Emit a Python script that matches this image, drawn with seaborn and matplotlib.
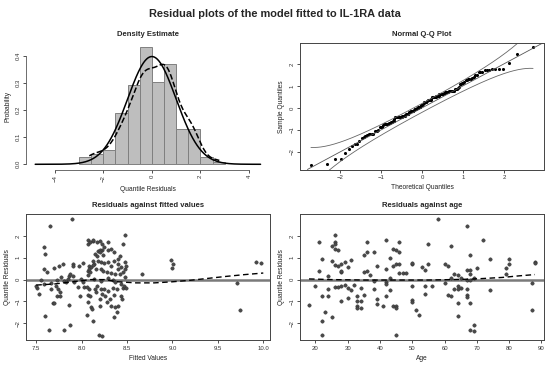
import numpy as np
import seaborn as sns
import matplotlib.pyplot as plt
from statistics import NormalDist

# histogram of quantile residuals (density per 0.5 bin)
hist_edges = [-3.0, -2.5, -2.0, -1.5, -1.0, -0.5, 0.0, 0.5, 1.0, 1.5, 2.0, 2.5, 3.0]
hist_density = [0.026, 0.037, 0.053, 0.19, 0.293, 0.435, 0.306, 0.37, 0.129, 0.129, 0.026, 0.008]

# residuals vs fitted values
fitted = [7.65, 7.89, 7.58, 7.60, 7.59, 7.62, 7.69, 7.75, 7.79, 7.90, 7.91, 8.02, 7.97, 8.07, 8.08,
          7.55, 7.51, 7.50, 7.53, 7.58, 7.66, 7.72, 7.66, 7.68, 7.70, 7.60, 7.64, 7.81, 7.86, 7.87,
          7.74, 7.76, 7.73, 7.76, 7.73, 7.77, 7.80, 7.85, 7.83, 7.86, 7.87, 7.90, 7.92, 7.96, 7.98,
          8.03, 8.08, 8.07, 8.07, 8.09, 8.13, 8.12, 8.17, 8.20, 8.22, 8.29, 8.25, 8.22, 8.18, 8.20,
          8.20, 8.15, 8.17, 8.23, 8.29, 8.32, 8.36, 8.40, 8.42, 8.45, 8.48, 8.12, 8.14, 8.10, 8.08,
          8.13, 8.18, 8.21, 8.25, 8.29, 8.32, 8.36, 8.40, 8.43, 8.48, 8.48, 8.49, 8.07, 8.09, 8.16,
          8.21, 8.23, 8.28, 8.32, 8.37, 8.40, 8.42, 8.45, 8.48, 8.66, 8.06, 8.07, 8.09, 8.07, 8.10,
          8.11, 8.15, 8.17, 8.16, 8.21, 8.22, 8.20, 8.20, 8.25, 8.26, 8.28, 8.29, 8.31, 8.32, 8.34,
          8.36, 8.39, 8.40, 8.43, 8.45, 8.44, 8.37, 8.47, 8.49, 8.36, 8.39, 8.13, 8.19, 8.22, 8.06,
          8.98, 9.00, 9.01, 9.71, 9.74, 9.92, 9.97, 8.14, 8.21, 8.29, 8.34, 8.37, 8.43, 8.02, 7.99]
resid_fitted = [2.47, 2.78, 1.51, 1.15, 0.49, 0.34, 0.53, 0.64, 0.69, 0.70, 0.63, 0.76, 0.64, 0.41, 0.64,
                0.00, -0.40, -0.27, -0.66, -0.20, -0.15, -0.27, -0.43, -1.07, -1.07, -1.65, -2.31, -2.32, -1.18, -2.06,
                -0.43, -0.58, -0.73, -0.76, -0.03, 0.11, -0.05, 0.03, -0.12, 0.15, 0.26, 0.18, -0.12, -0.34, -0.73,
                -0.35, -0.43, 1.63, 1.79, 1.71, 1.76, 1.79, 1.71, 1.76, 1.63, 1.74, 1.48, 1.33, 1.30, 1.36,
                1.25, 1.18, 1.10, 1.13, 1.33, 1.40, 1.25, 0.95, 1.10, 1.63, 2.02, 0.87, 0.72, 0.56, 0.49,
                0.67, 0.87, 0.79, 0.76, 0.79, 0.64, 0.87, 0.72, 0.56, 0.79, 0.49, 0.64, 0.21, 0.34, 0.49,
                0.49, 0.37, 0.34, 0.31, 0.26, 0.49, 0.26, 0.34, 0.11, 0.26, -0.35, -0.70, -0.73, -1.04, -1.24,
                -1.34, -0.43, -0.27, -0.58, -0.43, -0.66, -0.89, -1.19, -0.43, -0.73, -1.01, -0.50, -0.89, -1.19, -0.37,
                -0.70, -0.43, -1.19, -0.73, -0.37, -0.89, -1.27, -0.27, -0.40, -1.73, -1.50, -1.88, -2.53, -2.58, -1.62,
                0.90, 0.52, 0.72, -0.15, -1.37, 0.79, 0.76, 0.03, -0.05, 0.06, 0.00, -0.09, -0.20, -0.12, 0.03]

# residuals vs age
age = [18, 21, 21, 20, 22, 22, 22, 22, 23, 24, 24, 24, 25, 25, 25, 26, 26, 26, 26, 26, 26, 27, 27, 27,
       28, 28, 28, 28, 28, 29, 29, 30, 30, 30, 31, 31, 32, 33, 33, 33, 33, 34, 34, 34, 35, 35, 35, 36,
       36, 36, 37, 38, 38, 38, 39, 39, 39, 41, 42, 42, 42, 42, 42, 43, 43, 43, 44, 44, 44, 45, 45, 45,
       45, 45, 46, 46, 46, 46, 47, 48, 50, 50, 50, 50, 50, 51, 52, 53, 54, 54, 54, 55, 55, 56, 58, 60,
       60, 61, 61, 62, 62, 62, 63, 63, 64, 64, 64, 64, 64, 65, 65, 67, 67, 67, 67, 67, 67, 68, 68, 68,
       68, 68, 68, 69, 69, 69, 70, 72, 74, 74, 79, 79, 80, 80, 88, 88, 87, 87]
resid_age = [-1.16, 1.74, 0.38, -0.27, 0.96, -0.73, -1.88, -2.52, -1.47, 0.15, -0.43, -0.73, -1.69, 0.85,
             1.53, 2.02, 1.71, 1.62, 1.40, 0.67, -0.35, 1.34, 0.61, -0.32, 0.73, 0.34, 0.41, -0.27, -0.98,
             0.82, -0.23, 0.56, -0.37, -0.84, 0.89, -0.46, -0.26, -0.73, -0.98, -1.19, -1.31, -0.98, -1.30,
             -0.40, 0.34, 1.13, -0.70, 1.71, 1.25, 0.40, 0.21, 1.25, -0.06, -0.43, 0.64, -0.90, -1.10,
             -1.19, 1.79, 0.49, -0.12, -0.21, -0.73, 1.00, 0.09, -0.46, 1.40, 0.61, -1.19, 1.34, 0.70,
             -1.19, -1.28, -2.53, 1.74, 1.25, 0.73, 0.31, 0.31, 0.31, 0.70, 0.74, -0.31, -0.92, -1.04,
             -1.39, -1.62, 0.58, 0.43, -0.31, -0.66, 1.63, 0.70, -0.31, 2.78, 0.69, -0.17, 0.61, -0.70,
             1.53, 0.09, -0.73, -0.43, 0.24, 0.21, -0.27, -1.08, -1.65, -0.43, -0.37, 0.06, 2.44, 0.46,
             0.00, -0.43, -0.70, -0.81, 1.13, 0.46, 0.24, 0.00, -1.08, -2.31, 0.06, -2.08, -2.35, 0.55,
             1.79, 0.92, -0.46, 0.27, 0.53, 0.92, 0.70, 0.82, 0.78, -0.15, -1.37]

# dashed smoothers and Q-Q reference line
smooth_fit_x = [7.5, 7.7, 7.9, 8.1, 8.25, 8.4, 8.6, 8.8, 9.0, 9.2, 9.4, 9.6, 9.8, 10.0]
smooth_fit_y = [-0.25, -0.2, -0.1, 0.0, 0.0, -0.1, -0.15, -0.15, -0.1, -0.03, 0.06, 0.15, 0.23, 0.3]
smooth_age_x = [18, 25, 35, 45, 55, 62, 68, 72, 78, 83, 88]
smooth_age_y = [0.03, 0.0, -0.02, -0.02, -0.02, 0.0, 0.02, 0.05, 0.1, 0.17, 0.23]
qq_intercept, qq_slope = 0.0, 1.0

sns.set_style("ticks")
plt.rcParams["font.family"] = ["Liberation Sans", "DejaVu Sans"]

fig = plt.figure(figsize=(5.5, 3.67), dpi=100)
left_x, right_x, col_w = 26 / 550, 300 / 550, 244 / 550
top_y, bot_y, row_h = 1 - 169.5 / 367, 1 - 340 / 367, 126.5 / 367
ax_hist = fig.add_axes([left_x, top_y, col_w, row_h])
ax_qq = fig.add_axes([right_x, top_y, col_w, row_h])
ax_fit = fig.add_axes([left_x, bot_y, col_w, row_h])
ax_age = fig.add_axes([right_x, bot_y, col_w, row_h])

fig.text(0.5, 1 - 14 / 367, "Residual plots of the model fitted to IL-1RA data",
         ha="center", va="center", fontsize=7.9, fontweight="bold")

tick_kw = dict(direction="out", length=2.5, width=0.6, labelsize=4.3, colors="#333333", pad=1.5)


def style_box(ax):
    for s in ax.spines.values():
        s.set_visible(True)
        s.set_color("#444444")
        s.set_linewidth(0.7)
    ax.tick_params(**tick_kw)
    for lab in ax.get_yticklabels():
        lab.set_rotation(90)
        lab.set_va("center")


def titles(ax, title, xl, yl):
    ax.set_title(title, fontsize=5.5, fontweight="bold", pad=5)
    ax.set_xlabel(xl, fontsize=4.8, labelpad=3, color="#222222")
    ax.set_ylabel(yl, fontsize=4.8, labelpad=3, color="#222222")


# --- Density estimate
mids = [(a + b) / 2 for a, b in zip(hist_edges[:-1], hist_edges[1:])]
sns.histplot(x=mids, weights=hist_density, bins=hist_edges, stat="count", ax=ax_hist,
             color="#bebebe", edgecolor="#808080", linewidth=0.7, alpha=1)
sns.kdeplot(x=resid_fitted, ax=ax_hist, color="black", ls="--", lw=1.1, cut=0, bw_adjust=0.9)
nd = NormalDist()
xs = np.linspace(-4.81, 4.48, 300)
ax_hist.plot(xs, [nd.pdf(v) for v in xs], color="black", lw=1.1)
ax_hist.set_xlim(-5.19, 4.87)
ax_hist.set_ylim(-0.0193, 0.449)
ax_hist.set_xticks([-4, -2, 0, 2, 4])
ax_hist.set_yticks([0.0, 0.1, 0.2, 0.3, 0.4])
ax_hist.set_yticklabels(["0.0", "0.1", "0.2", "0.3", "0.4"])
sns.despine(ax=ax_hist)
for s in ["left", "bottom"]:
    ax_hist.spines[s].set_color("#555555")
    ax_hist.spines[s].set_linewidth(0.6)
ax_hist.spines["left"].set_bounds(0, 0.4)
ax_hist.spines["bottom"].set_bounds(-4, 4)
ax_hist.tick_params(**tick_kw)
for lab in ax_hist.get_yticklabels() + ax_hist.get_xticklabels():
    lab.set_rotation(90)
    lab.set_va("center")
for lab in ax_hist.get_xticklabels():
    lab.set_va("top")
titles(ax_hist, "Density Estimate", "Quantile Residuals", "Probability")

# --- Normal Q-Q plot
sample = np.sort(np.array(resid_fitted))
n = len(sample)
probs = (np.arange(1, n + 1) - 0.5) / n
theo = np.array([nd.inv_cdf(p) for p in probs])
ax_qq.axline((0, qq_intercept), slope=qq_slope, color="#555555", lw=0.6)
gx = np.linspace(theo.min(), theo.max(), 200)
gp = np.array([nd.cdf(v) for v in gx])
se = qq_slope * np.sqrt(gp * (1 - gp) / n) / np.array([nd.pdf(v) for v in gx])
ax_qq.plot(gx, qq_intercept + qq_slope * gx + 1.96 * se, color="#666666", lw=0.6)
ax_qq.plot(gx, qq_intercept + qq_slope * gx - 1.96 * se, color="#666666", lw=0.6)
sns.scatterplot(x=theo, y=sample, ax=ax_qq, color="black", s=5, linewidth=0)
ax_qq.set_xlim(-2.98, 2.98)
ax_qq.set_ylim(-2.80, 2.95)
ax_qq.set_xticks([-2, -1, 0, 1, 2])
ax_qq.set_yticks([-2, -1, 0, 1, 2])
style_box(ax_qq)
titles(ax_qq, "Normal Q-Q Plot", "Theoretical Quantiles", "Sample Quantiles")

# --- Residuals against fitted values
ax_fit.axhline(0, color="#7a7a7a", lw=1.8, zorder=1)
sns.scatterplot(x=fitted, y=resid_fitted, ax=ax_fit, color="#4a4a4a", edgecolor="#2a2a2a",
                s=6, linewidth=0.3, zorder=2)
sns.lineplot(x=smooth_fit_x, y=smooth_fit_y, ax=ax_fit, color="black", lw=1.0,
             linestyle=(0, (4, 2.5)), zorder=3)
ax_fit.set_xlim(7.387, 10.074)
ax_fit.set_ylim(-2.76, 3.02)
ax_fit.set_xticks([7.5, 8.0, 8.5, 9.0, 9.5, 10.0])
ax_fit.set_xticklabels(["7.5", "8.0", "8.5", "9.0", "9.5", "10.0"])
ax_fit.set_yticks([-2, -1, 0, 1, 2])
style_box(ax_fit)
titles(ax_fit, "Residuals against fitted values", "Fitted Values", "Quantile Residuals")

# --- Residuals against age
ax_age.axhline(0, color="#7a7a7a", lw=1.8, zorder=1)
sns.scatterplot(x=age, y=resid_age, ax=ax_age, color="#4a4a4a", edgecolor="#2a2a2a",
                s=6, linewidth=0.3, zorder=2)
sns.lineplot(x=smooth_age_x, y=smooth_age_y, ax=ax_age, color="black", lw=1.0,
             linestyle=(0, (4, 2.5)), zorder=3)
ax_age.set_xlim(15.2, 90.8)
ax_age.set_ylim(-2.76, 3.02)
ax_age.set_xticks([20, 30, 40, 50, 60, 70, 80, 90])
ax_age.set_yticks([-2, -1, 0, 1, 2])
style_box(ax_age)
titles(ax_age, "Residuals against age", "Age", "Quantile Residuals")

fig.savefig("out.png", dpi=100)
